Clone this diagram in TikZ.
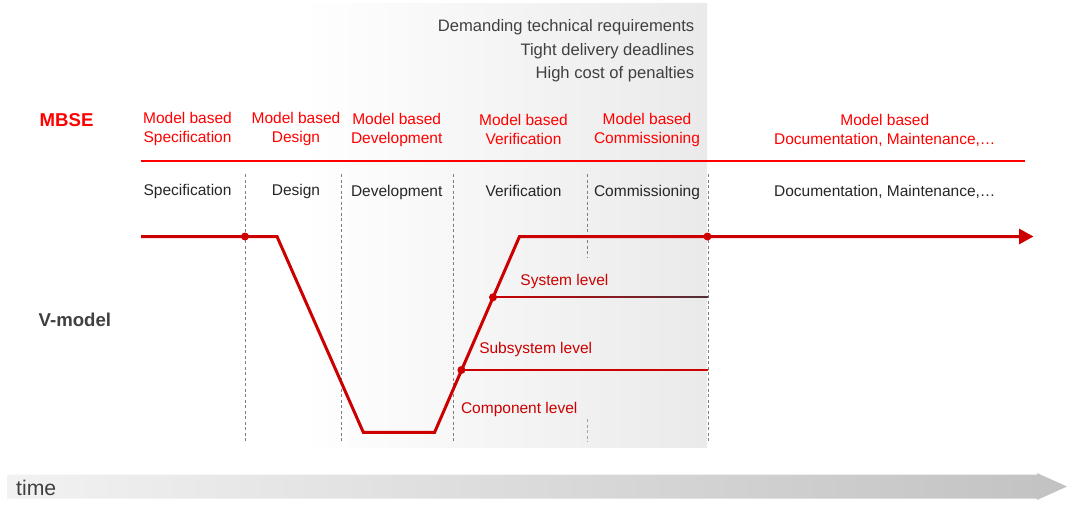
\documentclass[tikz,border=0pt]{standalone}
\usepackage{fontspec}
\setmainfont{Liberation Sans}
\usetikzlibrary{arrows.meta}
\definecolor{mbred}{HTML}{FF0000}
\definecolor{vred}{HTML}{CC0000}
\definecolor{sysdark}{HTML}{50303A}
\definecolor{txt}{HTML}{262626}
\definecolor{gtxt}{HTML}{404040}
\definecolor{dashgray}{HTML}{7F7F7F}
\definecolor{dashblue}{HTML}{9AA4AE}
\definecolor{shadegray}{HTML}{EAEAEA}
\definecolor{timeleft}{HTML}{F2F2F2}
\definecolor{timeright}{HTML}{C2C2C2}
\begin{document}
\begin{tikzpicture}[x=1pt,y=-1pt,
  lbl/.style={inner sep=0pt, anchor=base, font=\fontsize{15.5}{19}\selectfont},
  mb/.style={lbl, text=mbred},
  ph/.style={lbl, text=txt},
  lev/.style={lbl, text=vred},
  toptxt/.style={inner sep=0pt, anchor=base east, text=gtxt, font=\fontsize{16.6}{20}\selectfont},
  head/.style={inner sep=0pt, anchor=base west, font=\bfseries\fontsize{18.6}{22}\selectfont},
  sep/.style={dashgray, line width=0.8pt, dash pattern=on 3pt off 2.5pt},
  sepb/.style={dashblue, line width=0.8pt, dash pattern=on 3pt off 2.5pt},
  vline/.style={vred, line width=3pt},
  levline/.style={vred, line width=1.2pt},
  dot/.style={circle, fill=vred, inner sep=0pt, minimum size=8pt}
]
\useasboundingbox (0,0) rectangle (1078,520);

% shaded region
\shade[left color=white, right color=shadegray] (300,3) rectangle (707,447);

% top texts
\node[toptxt] (t1) at (694.5,31.5) {Demanding technical requirements};
\node[toptxt] (t2) at (694.5,55) {Tight delivery deadlines};
\node[toptxt] (t3) at (694.5,78.5) {High cost of penalties};

% headers
\node[head, text=mbred] (mbse) at (39.5,126.7) {MBSE};
\node[head, text=gtxt] (vmodel) at (38.5,326.7) {V-model};

% MBSE labels
\node[mb] (m1a) at (187.5,123.3) {Model based};
\node[mb] (m1b) at (187.5,142.3) {Specification};
\node[mb] (m2a) at (296,123.3) {Model based};
\node[mb] (m2b) at (296,142.3) {Design};
\node[mb] (m3a) at (396.7,124) {Model based};
\node[mb] (m3b) at (396.7,143) {Development};
\node[mb] (m4a) at (523.5,125) {Model based};
\node[mb] (m4b) at (523.5,144) {Verification};
\node[mb] (m5a) at (647,124) {Model based};
\node[mb] (m5b) at (647,143.3) {Commissioning};
\node[mb] (m6a) at (884.8,125) {Model based};
\node[mb] (m6b) at (884.8,144) {Documentation, Maintenance,\ldots};

% MBSE separator line
\coordinate (ml0) at (141,161);
\coordinate (ml1) at (1025,161);
\draw[mbred, line width=2pt] (ml0) -- (ml1);

% phase labels
\node[ph] (p1) at (187.5,195) {Specification};
\node[ph] (p2) at (296,195) {Design};
\node[ph] (p3) at (396.7,196.5) {Development};
\node[ph] (p4) at (523.5,196.5) {Verification};
\node[ph] (p5) at (647,196) {Commissioning};
\node[ph] (p6) at (884.8,196.7) {Documentation, Maintenance,\ldots};

% dashed separators
\draw[sep] (245,174) -- (245,442);
\draw[sep] (341.6,174) -- (341.6,442);
\draw[sep] (453,174) -- (453,442);
\draw[sep] (587,174) -- (587,257);
\draw[sepb] (587,419) -- (587,442);
\draw[sep] (708,174) -- (708,442);

% V-model coordinates
\coordinate (v0) at (141,236.5);
\coordinate (v1) at (277,236.5);
\coordinate (v2) at (363.3,432.3);
\coordinate (v3) at (434.6,432.3);
\coordinate (v4) at (519.5,236.5);
\coordinate (vend) at (1033.5,236.5);
\coordinate (sysend) at (708,297.3);
\coordinate (subend) at (708,370);

% level lines
\shade[left color=vred, right color=sysdark] (493,296.7) rectangle (708,297.9);
\draw[levline] (461.4,370) -- (subend);

% V line
\draw[vline, -{Triangle[length=14.5pt,width=15pt]}] (v0) -- (v1) -- (v2) -- (v3) -- (v4) -- (vend);

% dots
\node[dot] (d1) at (245,236.5) {};
\node[dot] (d2) at (707.5,236.5) {};
\node[dot] (dsys) at (493,297.3) {};
\node[dot] (dsub) at (461.4,370) {};

% level labels
\node[lev] (l1) at (564.4,285) {System level};
\node[lev] (l2) at (535.7,353.3) {Subsystem level};
\node[lev] (l3) at (519.2,413.8) {Component level};

% time arrow
\shade[left color=timeleft, right color=timeright]
  (7,474.5) -- (1037,474.5) -- (1037,473) -- (1067,486.5) -- (1037,500) -- (1037,498.5) -- (7,498.5) -- cycle;
\node[inner sep=0pt, anchor=base west, text=gtxt, font=\fontsize{21.2}{25}\selectfont] (time) at (16,495) {time};
\end{tikzpicture}
\end{document}
